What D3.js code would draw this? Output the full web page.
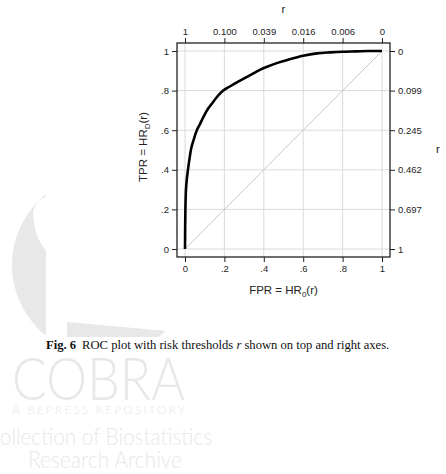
<!DOCTYPE html>
<html>
<head>
<meta charset="utf-8">
<script src="https://cdn.jsdelivr.net/npm/d3@7/dist/d3.min.js"></script>
<style>
  body { margin: 0; background: #fff; }
  svg { display: block; }
</style>
</head>
<body>
<div id="chart"></div>
<script>
// ROC curve
const fpr = [0, 0.002, 0.005, 0.01, 0.015, 0.022, 0.032, 0.045, 0.06, 0.076, 0.095, 0.116, 0.135, 0.16, 0.194, 0.23, 0.27, 0.31, 0.345, 0.38, 0.42, 0.47, 0.52, 0.6, 0.67, 0.74, 0.8, 0.87, 0.93, 1];
const tpr = [0, 0.2, 0.30, 0.36, 0.40, 0.45, 0.51, 0.555, 0.60, 0.631, 0.67, 0.707, 0.732, 0.765, 0.80, 0.822, 0.845, 0.867, 0.886, 0.905, 0.922, 0.94, 0.955, 0.976, 0.988, 0.993, 0.996, 0.998, 1, 1];

// axis ticks
const ticks = [0, 0.2, 0.4, 0.6, 0.8, 1];
const bottomLabels = ['0', '.2', '.4', '.6', '.8', '1'];
const leftLabels = ['0', '.2', '.4', '.6', '.8', '1'];
const topLabels = ['1', '0.100', '0.039', '0.016', '0.006', '0'];
const rightLabels = ['1', '0.697', '0.462', '0.245', '0.099', '0'];

const W = 446, H = 474;
const frame = { left: 177, right: 390, top: 43, bottom: 257 };
const pad = 8;

const svg = d3.select('#chart').append('svg')
    .attr('width', W)
    .attr('height', H);

// watermark (background logo + text)
const defs = svg.append('defs');
const clip = defs.append('clipPath').attr('id', 'logo-clip');
clip.append('polygon').attr('points', '0,0 46,0 46,337 0,337');
clip.append('polygon').attr('points', '67,322 200,334 200,337 67,337');

const wm = svg.append('g').attr('fill', '#e8e8e8');
wm.append('circle')
    .attr('cx', 103).attr('cy', 265).attr('r', 91)
    .attr('clip-path', 'url(#logo-clip)');
wm.append('path')
    .attr('fill', '#fff')
    .attr('d', 'M47,196 Q36,200 33,212 Q34,238 47,252 Z');
wm.append('text')
    .attr('x', 12).attr('y', 400)
    .attr('textLength', 173).attr('lengthAdjust', 'spacingAndGlyphs')
    .style('font-family', 'Lato, sans-serif').style('font-weight', 300)
    .style('font-size', '60px')
    .text('COBRA');
wm.append('text')
    .attr('x', 12).attr('y', 414)
    .attr('textLength', 173).attr('lengthAdjust', 'spacing')
    .style('font-family', 'Lato, sans-serif').style('font-weight', 300)
    .style('font-size', '12px')
    .text('A  BEPRESS  REPOSITORY');
wm.append('text')
    .attr('x', -14).attr('y', 445)
    .attr('textLength', 226).attr('lengthAdjust', 'spacingAndGlyphs')
    .style('font-family', 'Lato, sans-serif').style('font-weight', 300)
    .style('font-size', '23px')
    .text('Collection of Biostatistics');
wm.append('text')
    .attr('x', 28).attr('y', 468)
    .attr('textLength', 154).attr('lengthAdjust', 'spacingAndGlyphs')
    .style('font-family', 'Lato, sans-serif').style('font-weight', 300)
    .style('font-size', '23px')
    .text('Research Archive');

// scales
const x = d3.scaleLinear().domain([0, 1]).range([frame.left + pad, frame.right - pad]);
const y = d3.scaleLinear().domain([0, 1]).range([frame.bottom - pad, frame.top + pad]);

const plot = svg.append('g');

plot.append('rect')
    .attr('x', frame.left).attr('y', frame.top)
    .attr('width', frame.right - frame.left)
    .attr('height', frame.bottom - frame.top)
    .attr('fill', '#fff');

// grid
plot.selectAll('line.gx').data(ticks).enter().append('line')
    .attr('x1', d => x(d)).attr('x2', d => x(d))
    .attr('y1', frame.top).attr('y2', frame.bottom)
    .attr('stroke', '#dadada').attr('stroke-width', 1);
plot.selectAll('line.gy').data(ticks).enter().append('line')
    .attr('y1', d => y(d)).attr('y2', d => y(d))
    .attr('x1', frame.left).attr('x2', frame.right)
    .attr('stroke', '#dadada').attr('stroke-width', 1);

// diagonal
plot.append('line')
    .attr('x1', x(0)).attr('y1', y(0))
    .attr('x2', x(1)).attr('y2', y(1))
    .attr('stroke', '#c8c8c8').attr('stroke-width', 1);

// ROC curve
const pts = fpr.map((f, i) => [f, tpr[i]]);
plot.append('path')
    .datum(pts)
    .attr('d', d3.line().x(d => x(d[0])).y(d => y(d[1])).curve(d3.curveCatmullRom.alpha(0.5)))
    .attr('fill', 'none')
    .attr('stroke', '#000')
    .attr('stroke-width', 2.6)
    .attr('stroke-linejoin', 'round');

// frame
plot.append('rect')
    .attr('x', frame.left).attr('y', frame.top)
    .attr('width', frame.right - frame.left)
    .attr('height', frame.bottom - frame.top)
    .attr('fill', 'none')
    .attr('stroke', '#222').attr('stroke-width', 1.3);

// axes
const axisFont = 'Liberation Sans, Arial, sans-serif';
function styleAxis(g) {
    g.select('.domain').remove();
    g.selectAll('.tick line').attr('stroke', '#222');
    g.selectAll('.tick text')
        .attr('fill', '#222')
        .style('font-family', axisFont)
        .style('font-size', '9.5px');
}

svg.append('g')
    .attr('transform', `translate(0,${frame.bottom})`)
    .call(d3.axisBottom(x).tickValues(ticks).tickSize(5).tickPadding(3)
        .tickFormat((d, i) => bottomLabels[i]))
    .call(styleAxis);

svg.append('g')
    .attr('transform', `translate(${frame.left},0)`)
    .call(d3.axisLeft(y).tickValues(ticks).tickSize(5).tickPadding(3)
        .tickFormat((d, i) => leftLabels[i]))
    .call(styleAxis);

svg.append('g')
    .attr('transform', `translate(0,${frame.top})`)
    .call(d3.axisTop(x).tickValues(ticks).tickSize(5).tickPadding(3)
        .tickFormat((d, i) => topLabels[i]))
    .call(styleAxis);

svg.append('g')
    .attr('transform', `translate(${frame.right},0)`)
    .call(d3.axisRight(y).tickValues(ticks).tickSize(5).tickPadding(3)
        .tickFormat((d, i) => rightLabels[i]))
    .call(styleAxis);

// axis titles
const titleSize = '11.5px';
const xt = svg.append('text')
    .attr('x', (frame.left + frame.right) / 2).attr('y', 294)
    .attr('text-anchor', 'middle')
    .attr('fill', '#222')
    .style('font-family', axisFont).style('font-size', titleSize);
xt.append('tspan').text('FPR = HR');
xt.append('tspan').attr('dy', 3).style('font-size', '8px').text('0');
xt.append('tspan').attr('dy', -3).text('(r)');

const yt = svg.append('text')
    .attr('transform', `translate(147,${(frame.top + frame.bottom) / 2 - 3}) rotate(-90)`)
    .attr('text-anchor', 'middle')
    .attr('fill', '#222')
    .style('font-family', axisFont).style('font-size', titleSize);
yt.append('tspan').text('TPR = HR');
yt.append('tspan').attr('dy', 3).style('font-size', '8px').text('D');
yt.append('tspan').attr('dy', -3).text('(r)');

svg.append('text')
    .attr('x', (frame.left + frame.right) / 2).attr('y', 13)
    .attr('text-anchor', 'middle')
    .attr('fill', '#222')
    .style('font-family', axisFont).style('font-size', titleSize)
    .text('r');

svg.append('text')
    .attr('x', 438).attr('y', 153)
    .attr('text-anchor', 'middle')
    .attr('fill', '#222')
    .style('font-family', axisFont).style('font-size', titleSize)
    .text('r');

// caption
const cap = svg.append('text')
    .attr('x', 46).attr('y', 349)
    .attr('fill', '#111')
    .style('font-family', 'Liberation Serif, Times New Roman, serif')
    .style('font-size', '12.6px');
cap.append('tspan').style('font-weight', 'bold').text('Fig. 6');
cap.append('tspan').attr('dx', 6).text('ROC plot with risk thresholds ');
cap.append('tspan').style('font-style', 'italic').text('r');
cap.append('tspan').text(' shown on top and right axes.');
</script>
</body>
</html>
